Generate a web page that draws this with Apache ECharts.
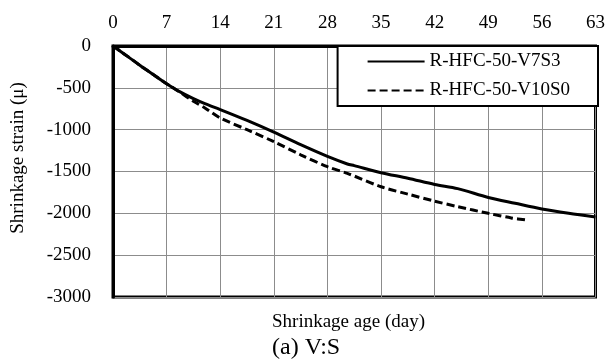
<!DOCTYPE html>
<html>
<head>
<meta charset="utf-8">
<script src="https://cdn.jsdelivr.net/npm/echarts@6/dist/echarts.min.js"></script>
<style>
  html, body { margin: 0; padding: 0; background: #fff; }
  #chart { width: 608px; height: 363px; }
</style>
</head>
<body>
<div id="chart"></div>
<script>
// Shrinkage strain vs. age for the two V:S mixes
const seriesNames = ['R-HFC-50-V7S3', 'R-HFC-50-V10S0'];

const daysV7S3   = [0, 1, 2, 3.5, 5, 7, 8.7, 10.5, 12, 14, 17.5, 21, 24.5, 28, 30.6, 31.5, 35, 38.5, 42, 45, 49, 52.5, 56, 59.5, 63];
const strainV7S3 = [0, -65, -130, -230, -325, -450, -546, -630, -690, -760, -890, -1030, -1180, -1320, -1410, -1430, -1514, -1580, -1655, -1705, -1810, -1880, -1948, -2000, -2045];

const daysV10S0   = [0, 1, 2, 3.5, 5, 7, 8.7, 10.5, 12, 14, 17.5, 21, 24.5, 28, 30.6, 35, 38.5, 42, 45, 49, 52, 54];
const strainV10S0 = [0, -65, -130, -230, -325, -450, -550, -660, -740, -860, -1000, -1143, -1300, -1443, -1522, -1682, -1770, -1855, -1920, -2000, -2055, -2080];

const xTicks = { min: 0, max: 63, step: 7 };
const yTicks = { min: -3000, max: 0, step: 500 };

const axisTitleX = 'Shrinkage age (day)';
const axisTitleY = 'Shrinkage strain (\u03bc)';
const panelLabel = '(a) V:S';

const pair = (xs, ys) => xs.map((x, i) => [x, ys[i]]);
const serif = '"Liberation Serif", "Times New Roman", serif';

const chart = echarts.init(document.getElementById('chart'), null, { renderer: 'canvas' });

chart.setOption({
  animation: false,
  backgroundColor: '#fff',
  textStyle: { fontFamily: serif, color: '#000' },
  grid: {
    left: 113, right: 8, top: 46, bottom: 66,
    show: true, borderColor: '#000', borderWidth: 3, backgroundColor: 'transparent'
  },
  title: [
    { text: axisTitleX, left: 272, top: 313, padding: 0,
      textStyle: { fontFamily: serif, fontSize: 19, fontWeight: 'normal', color: '#000' } },
    { text: panelLabel, left: 272, top: 336, padding: 0,
      textStyle: { fontFamily: serif, fontSize: 24, fontWeight: 'normal', color: '#000' } }
  ],
  legend: {
    orient: 'vertical',
    right: 10, top: 46,
    backgroundColor: '#fff',
    borderColor: '#000', borderWidth: 2,
    padding: [6, 28, 6, 29],
    itemGap: 10,
    itemWidth: 57, itemHeight: 14,
    itemStyle: { opacity: 0 },
    textStyle: { fontFamily: serif, fontSize: 19, color: '#000' },
    data: seriesNames
  },
  xAxis: {
    type: 'value', position: 'top',
    min: xTicks.min, max: xTicks.max, interval: xTicks.step,
    axisLine: { show: true, lineStyle: { color: '#000', width: 3 } },
    axisTick: { show: false },
    axisLabel: { fontFamily: serif, fontSize: 19, color: '#000', margin: 13,
      formatter: v => String(v) },
    splitLine: { show: true, lineStyle: { color: '#8c8c8c', width: 1 } }
  },
  yAxis: {
    type: 'value',
    min: yTicks.min, max: yTicks.max, interval: yTicks.step,
    name: axisTitleY, nameLocation: 'middle', nameGap: 85,
    nameTextStyle: { fontFamily: serif, fontSize: 19, color: '#000', padding: [0, 0, 0, 27] },
    axisLine: { show: true, lineStyle: { color: '#000', width: 3 } },
    axisTick: { show: false },
    axisLabel: { fontFamily: serif, fontSize: 19, color: '#000', margin: 22,
      formatter: v => String(v) },
    splitLine: { show: true, lineStyle: { color: '#8c8c8c', width: 1 } }
  },
  series: [
    {
      name: seriesNames[0], type: 'line', data: pair(daysV7S3, strainV7S3),
      showSymbol: false, symbol: 'none', smooth: 0.3,
      lineStyle: { color: '#000', width: 3, type: 'solid' },
      itemStyle: { color: '#000' }, z: 3
    },
    {
      name: seriesNames[1], type: 'line', data: pair(daysV10S0, strainV10S0),
      showSymbol: false, symbol: 'none', smooth: 0.3,
      lineStyle: { color: '#000', width: 3, type: [8, 4] },
      itemStyle: { color: '#000' }, z: 2
    }
  ]
});
</script>
</body>
</html>
